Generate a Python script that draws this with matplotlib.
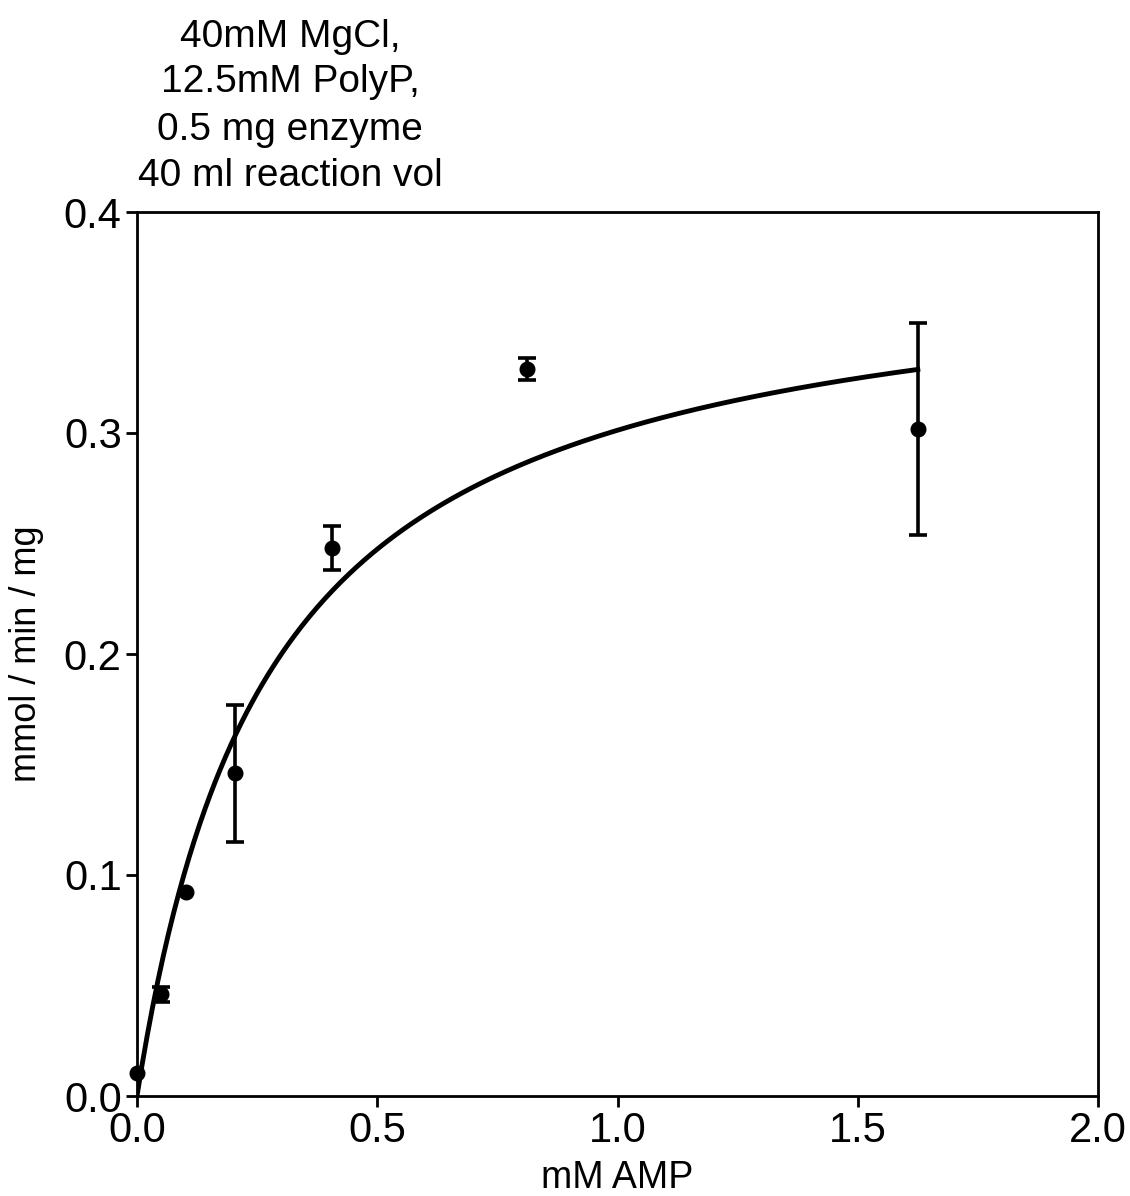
import matplotlib
matplotlib.use("Agg")
import matplotlib.pyplot as plt
import numpy as np

plt.rcParams['font.family'] = ['Liberation Sans', 'DejaVu Sans']

# --- data ---
amp_mM = [0.0, 0.0508, 0.1016, 0.2031, 0.4063, 0.8125, 1.625]
rate = [0.0104, 0.046, 0.0925, 0.146, 0.248, 0.329, 0.302]
rate_err = [0.0, 0.0035, 0.0, 0.031, 0.010, 0.005, 0.048]

# Michaelis-Menten fit parameters
VMAX = 0.385
KM = 0.278

title_lines = ["40mM MgCl,", "12.5mM PolyP,", "0.5 mg enzyme", "40 ml reaction vol"]
title_y_px = [37, 82, 130, 176]

W, H = 1130, 1196
fig = plt.figure(figsize=(W / 100, H / 100), dpi=100)
ax = fig.add_axes([137 / W, 1 - 1096 / H, (1098 - 137) / W, (1096 - 212) / H])

# fitted curve
xf = np.linspace(0, max(amp_mM), 300)
ax.plot(xf, VMAX * xf / (KM + xf), color='black', lw=3.5, zorder=2)

# points, then error bars only where there is an error
ax.plot(amp_mM, rate, 'o', color='black', ms=10.5, zorder=3, clip_on=False)
xe = [x for x, e in zip(amp_mM, rate_err) if e > 0]
ye = [y for y, e in zip(rate, rate_err) if e > 0]
ee = [e for e in rate_err if e > 0]
ax.errorbar(xe, ye, yerr=ee, fmt='none', ecolor='black',
            elinewidth=2.6, capsize=6.5, capthick=2.6, zorder=3)

ax.set_xlim(0, 2.0)
ax.set_ylim(0, 0.4)
ax.set_xticks([0.0, 0.5, 1.0, 1.5, 2.0])
ax.set_yticks([0.0, 0.1, 0.2, 0.3, 0.4])
ax.xaxis.set_major_formatter(matplotlib.ticker.FormatStrFormatter('%.1f'))
ax.yaxis.set_major_formatter(matplotlib.ticker.FormatStrFormatter('%.1f'))
ax.tick_params(direction='out', length=8, width=2, labelsize=30, pad=3)
for s in ax.spines.values():
    s.set_linewidth(2)

ax.set_xlabel("mM AMP", fontsize=27, labelpad=6)
ax.set_ylabel("mmol / min / mg", fontsize=26, labelpad=14)

for line, ypx in zip(title_lines, title_y_px):
    fig.text(290 / W, 1 - ypx / H, line, ha='center', va='center', fontsize=28)

fig.savefig("out.png", dpi=100)
